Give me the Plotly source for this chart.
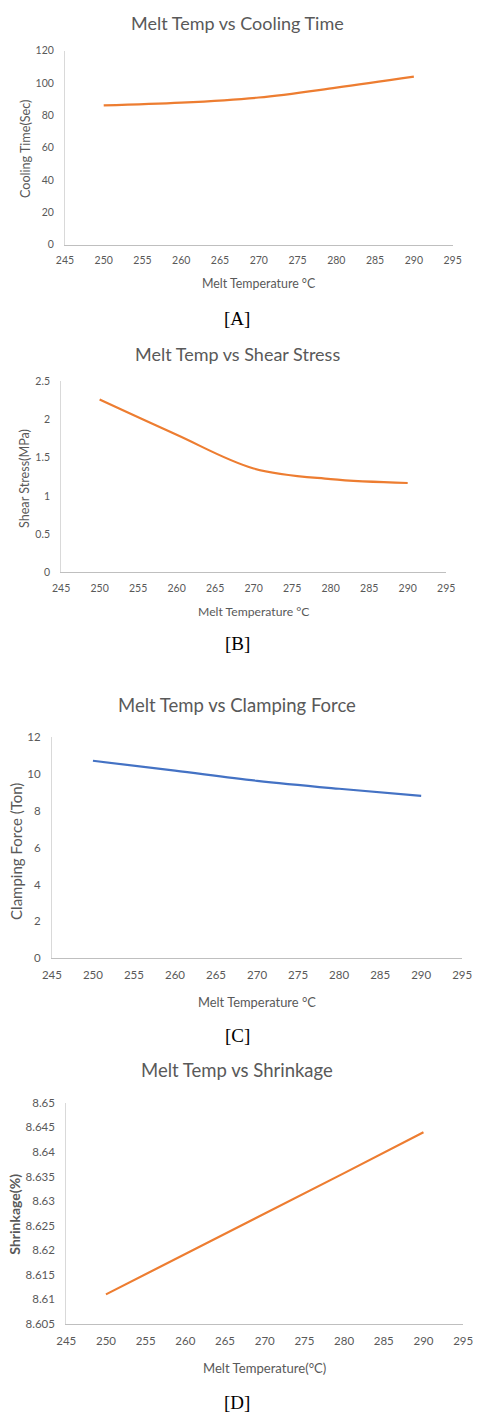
import plotly.graph_objects as go

# ---- data ----
melt_temp = [250, 260, 270, 280, 290]
cooling_time = [86.1, 87.8, 91.0, 97.1, 103.9]
shear_stress = [2.26, 1.80, 1.36, 1.22, 1.17]
clamping_force = [10.71, 10.17, 9.62, 9.19, 8.81]
shrinkage = [8.6110, 8.6192, 8.6275, 8.6357, 8.6440]

x_ticks = [245, 250, 255, 260, 265, 270, 275, 280, 285, 290, 295]

ORANGE = "#ED7D31"
BLUE = "#4472C4"
GRAY = "#595959"
FONT = "Lato"
H = 1422.0
W = 484.0

def py(p):
    return 1 - p / H

def px(p):
    return p / W

panels = [
    dict(y=cooling_time, color=ORANGE, shape="spline", xd=(57.3, 461.7), yd=(44, 240),
         yr=[0, 120], dt=20, tf=10.5, title="Melt Temp vs Cooling Time", ty=16, ts=18,
         xt="Melt Temperature °C", xty=279, xts=12.4, yt="Cooling Time(Sec)", ytx=16, yty=143,
         yts=12.6, ytb=False, lab="[A]", laby=314),
    dict(y=shear_stress, color=ORANGE, shape="spline", xd=(53.3, 455), yd=(377.7, 570.7),
         yr=[0, 2.5], dt=0.5, tf=10.5, title="Melt Temp vs Shear Stress", ty=350, ts=18,
         xt="Melt Temperature °C", xty=610, xts=12.2, yt="Shear Stress(MPa)", ytx=15, yty=476,
         yts=12.6, ytb=False, lab="[B]", laby=642),
    dict(y=clamping_force, color=BLUE, shape="spline", xd=(43.7, 471.7), yd=(736.7, 960),
         yr=[0, 12], dt=2, tf=11.5, title="Melt Temp vs Clamping Force", ty=704, ts=18.5,
         xt="Melt Temperature °C", xty=1004, xts=12.9, yt="Clamping Force (Ton)", ytx=7, yty=852,
         yts=15, ytb=False, lab="[C]", laby=1038),
    dict(y=shrinkage, color=ORANGE, shape="linear", xd=(58.7, 472.7), yd=(1106, 1329),
         yr=[8.605, 8.65], dt=0.005, tf=11.5, title="Melt Temp vs Shrinkage", ty=1073, ts=18.5,
         xt="Melt Temperature(°C)", xty=1374, xts=13.1, yt="Shrinkage(%)", ytx=5, yty=1218,
         yts=14, ytb=True, lab="[D]", laby=1408),
]

fig = go.Figure()
annotations = []
layout = {}
for i, p in enumerate(panels, start=1):
    xa = "x" if i == 1 else f"x{i}"
    ya = "y" if i == 1 else f"y{i}"
    fig.add_trace(go.Scatter(x=melt_temp, y=p["y"], mode="lines",
                             line=dict(color=p["color"], width=2.2, shape=p["shape"], smoothing=1.0),
                             xaxis=xa, yaxis=ya, showlegend=False, hoverinfo="skip"))
    xkey = "xaxis" if i == 1 else f"xaxis{i}"
    ykey = "yaxis" if i == 1 else f"yaxis{i}"
    layout[xkey] = dict(domain=[px(p["xd"][0]), px(p["xd"][1])], range=[245, 295],
                        tickvals=x_ticks, showgrid=False, zeroline=False,
                        showline=True, linecolor="#bfbfbf", linewidth=1,
                        ticks="outside", ticklen=6, tickcolor="rgba(0,0,0,0)",
                        tickfont=dict(family=FONT, size=p["tf"], color=GRAY),
                        anchor=ya, fixedrange=True)
    layout[ykey] = dict(domain=[py(p["yd"][1]), py(p["yd"][0])], range=p["yr"],
                        dtick=p["dt"], tick0=p["yr"][0], showgrid=False, zeroline=False,
                        showline=True, linecolor="#d9d9d9", linewidth=1,
                        ticks="outside", ticklen=8, tickcolor="rgba(0,0,0,0)",
                        tickfont=dict(family=FONT, size=p["tf"], color=GRAY),
                        anchor=xa, fixedrange=True)
    annotations.append(dict(text=p["title"], x=0.49, y=py(p["ty"]), xref="paper", yref="paper",
                            showarrow=False, xanchor="center", yanchor="middle",
                            font=dict(family=FONT, size=p["ts"], color=GRAY)))
    xc = (p["xd"][0] + p["xd"][1]) / 2
    annotations.append(dict(text=p["xt"], x=px(xc), y=py(p["xty"]), xref="paper", yref="paper",
                            showarrow=False, xanchor="center", yanchor="middle",
                            font=dict(family=FONT, size=p["xts"], color=GRAY)))
    ytxt = f"<b>{p['yt']}</b>" if p["ytb"] else p["yt"]
    annotations.append(dict(text=ytxt, x=px(p["ytx"]), y=py(p["yty"]), xref="paper", yref="paper",
                            showarrow=False, xanchor="center", yanchor="middle", textangle=-90,
                            font=dict(family=FONT, size=p["yts"], color=GRAY)))
    annotations.append(dict(text=p["lab"], x=0.49, y=py(p["laby"]), xref="paper", yref="paper",
                            showarrow=False, xanchor="center", yanchor="middle",
                            font=dict(family="Liberation Serif", size=19, color="black")))

fig.update_layout(**layout)
fig.update_layout(width=484, height=1422, margin=dict(l=0, r=0, t=0, b=0),
                  paper_bgcolor="white", plot_bgcolor="white",
                  annotations=annotations, showlegend=False)
fig.write_html("out.html", config={"displayModeBar": False, "staticPlot": True},
               post_script="document.documentElement.style.margin='0';document.body.style.margin='0';"
                           "document.body.style.overflow='hidden';")
